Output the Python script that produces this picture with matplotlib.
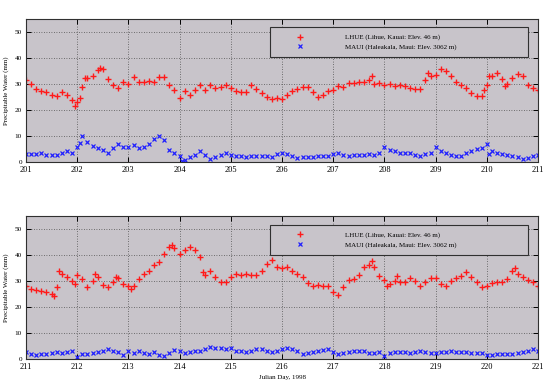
import numpy as np
import matplotlib
matplotlib.use("Agg")
import matplotlib.pyplot as plt

# Agua precipitable, días julianos 201-221 de 1998
lhue_label = "LHUE (Lihue, Kauai: Elev. 46 m)"
maui_label = "MAUI (Haleakala, Maui: Elev. 3062 m)"

top_lhue_day = [201.0, 201.1, 201.2, 201.3, 201.4, 201.5, 201.6, 201.7, 201.8, 201.9,
                201.95, 202.0, 202.05, 202.1, 202.15, 202.2, 202.3, 202.4, 202.45, 202.5,
                202.6, 202.7, 202.8, 202.9, 203.0, 203.1, 203.2, 203.3, 203.4, 203.5,
                203.6, 203.7, 203.8, 203.9, 204.0, 204.1, 204.2, 204.3, 204.4, 204.5,
                204.6, 204.7, 204.8, 204.9, 205.0, 205.1, 205.2, 205.3, 205.4, 205.5,
                205.6, 205.7, 205.8, 205.9, 206.0, 206.1, 206.2, 206.3, 206.4, 206.5,
                206.6, 206.7, 206.8, 206.9, 207.0, 207.1, 207.2, 207.3, 207.4, 207.5,
                207.6, 207.7, 207.75, 207.8, 207.9, 208.0, 208.1, 208.2, 208.3, 208.4,
                208.5, 208.6, 208.7, 208.8, 208.85, 208.9, 209.0, 209.1, 209.2, 209.3,
                209.4, 209.5, 209.6, 209.7, 209.8, 209.9, 209.95, 210.0, 210.05, 210.1,
                210.2, 210.3, 210.35, 210.4, 210.5, 210.6, 210.7, 210.8, 210.9, 211.0]
top_lhue_pw = [31.7, 30.0, 28.0, 27.2, 26.8, 25.9, 25.3, 27.0, 26.0, 24.0,
               21.7, 23.3, 24.6, 29.0, 32.3, 32.3, 33.0, 35.5, 36.4, 36.0,
               32.0, 29.7, 28.5, 31.0, 30.1, 32.7, 31.0, 31.0, 31.4, 31.0,
               32.7, 32.6, 29.7, 27.8, 24.6, 27.2, 25.9, 27.8, 29.7, 27.8,
               29.7, 28.5, 28.8, 29.7, 28.5, 27.2, 26.8, 26.8, 29.7, 28.0,
               26.5, 25.0, 24.2, 24.6, 24.4, 25.9, 27.2, 28.0, 28.8, 28.8,
               26.8, 24.9, 25.9, 27.2, 27.6, 29.1, 28.8, 30.4, 30.4, 31.0,
               31.0, 31.7, 33.0, 30.1, 30.4, 29.7, 30.1, 29.4, 29.7, 29.1,
               28.5, 28.0, 28.0, 31.7, 34.2, 33.0, 33.6, 35.8, 34.9, 33.2,
               31.0, 29.7, 28.5, 26.5, 25.5, 25.3, 27.8, 29.7, 33.2, 33.0,
               34.2, 32.0, 29.4, 30.1, 32.3, 34.0, 33.0, 29.7, 28.5, 27.8]

top_maui_day = [201.0, 201.1, 201.2, 201.3, 201.4, 201.5, 201.6, 201.7, 201.8, 201.9,
                202.0, 202.05, 202.1, 202.2, 202.3, 202.4, 202.5, 202.6, 202.7, 202.8,
                202.9, 203.0, 203.1, 203.2, 203.3, 203.4, 203.5, 203.6, 203.7, 203.8,
                203.9, 204.0, 204.05, 204.1, 204.2, 204.3, 204.4, 204.5, 204.6, 204.7,
                204.8, 204.9, 205.0, 205.1, 205.2, 205.3, 205.4, 205.5, 205.6, 205.7,
                205.8, 205.9, 206.0, 206.1, 206.2, 206.3, 206.4, 206.5, 206.6, 206.7,
                206.8, 206.9, 207.0, 207.1, 207.2, 207.3, 207.4, 207.5, 207.6, 207.7,
                207.8, 207.9, 208.0, 208.1, 208.2, 208.3, 208.4, 208.5, 208.6, 208.7,
                208.8, 208.9, 209.0, 209.1, 209.2, 209.3, 209.4, 209.5, 209.6, 209.7,
                209.8, 209.9, 210.0, 210.05, 210.1, 210.2, 210.3, 210.4, 210.5, 210.6,
                210.7, 210.8, 210.9, 211.0]
top_maui_pw = [3.1, 3.1, 3.1, 3.5, 2.8, 2.6, 2.8, 3.5, 4.1, 3.5,
               6.0, 7.3, 9.9, 7.9, 6.3, 5.4, 4.7, 3.5, 5.4, 6.9,
               6.0, 6.0, 6.7, 5.4, 6.0, 7.0, 8.8, 9.9, 8.6, 4.7,
               3.5, 2.4, 0.3, 0.9, 1.9, 2.8, 4.1, 2.8, 1.2, 1.9,
               2.8, 3.5, 2.8, 2.4, 2.2, 1.9, 2.4, 2.4, 2.2, 2.4,
               1.9, 3.2, 3.5, 3.1, 2.2, 1.5, 1.8, 1.9, 1.9, 2.2,
               2.2, 2.4, 3.2, 3.5, 2.8, 2.2, 2.8, 2.8, 2.8, 3.2,
               2.8, 3.5, 6.0, 4.7, 4.1, 3.7, 3.5, 3.5, 2.8, 2.4,
               3.2, 3.7, 6.0, 4.1, 3.7, 2.8, 2.4, 2.2, 3.5, 4.1,
               5.0, 5.4, 7.0, 3.2, 4.1, 3.5, 3.1, 2.8, 2.4, 1.9,
               1.2, 1.5, 2.4, 2.8]

bot_lhue_day = [211.0, 211.1, 211.2, 211.3, 211.4, 211.5, 211.55, 211.6, 211.65, 211.7,
                211.8, 211.9, 211.95, 212.0, 212.1, 212.2, 212.3, 212.35, 212.4, 212.5,
                212.6, 212.7, 212.75, 212.8, 212.9, 213.0, 213.05, 213.1, 213.2, 213.3,
                213.4, 213.5, 213.6, 213.7, 213.8, 213.85, 213.9, 214.0, 214.1, 214.2,
                214.3, 214.4, 214.45, 214.5, 214.6, 214.7, 214.8, 214.9, 215.0, 215.1,
                215.2, 215.3, 215.4, 215.5, 215.6, 215.7, 215.8, 215.9, 216.0, 216.1,
                216.2, 216.3, 216.4, 216.5, 216.6, 216.7, 216.8, 216.9, 217.0, 217.1,
                217.2, 217.3, 217.4, 217.5, 217.6, 217.7, 217.75, 217.8, 217.9, 218.0,
                218.05, 218.1, 218.2, 218.25, 218.3, 218.4, 218.5, 218.6, 218.7, 218.8,
                218.9, 219.0, 219.1, 219.2, 219.3, 219.4, 219.5, 219.6, 219.7, 219.8,
                219.9, 220.0, 220.1, 220.2, 220.3, 220.4, 220.5, 220.55, 220.6, 220.7,
                220.8, 220.9, 221.0]
bot_lhue_pw = [28.2, 26.9, 26.6, 26.2, 25.8, 24.9, 24.3, 27.5, 34.0, 32.7,
               31.4, 30.1, 28.8, 32.3, 30.8, 27.5, 30.1, 32.7, 31.4, 28.4,
               27.5, 29.5, 31.4, 31.0, 28.8, 28.2, 26.9, 28.2, 30.8, 32.7,
               34.0, 36.0, 37.3, 40.5, 43.1, 43.8, 42.5, 40.5, 41.8, 43.1,
               41.8, 39.2, 33.4, 32.3, 34.0, 31.4, 29.5, 29.5, 31.4, 32.7,
               32.3, 32.7, 32.3, 32.3, 34.0, 36.6, 37.9, 35.3, 35.0, 35.3,
               34.0, 32.7, 31.4, 29.2, 28.2, 28.4, 28.2, 27.9, 25.6, 24.5,
               27.5, 30.5, 30.8, 32.3, 35.3, 36.2, 37.5, 35.3, 32.1, 30.5,
               28.2, 28.8, 30.1, 31.8, 29.5, 29.5, 31.0, 30.1, 28.2, 29.7,
               31.0, 31.0, 28.8, 27.9, 30.1, 31.0, 31.8, 33.4, 31.4, 29.7,
               27.5, 28.2, 29.2, 29.7, 29.5, 30.8, 34.0, 34.9, 32.7, 31.4,
               30.5, 29.5, 28.2]

bot_maui_day = [211.0, 211.1, 211.2, 211.3, 211.4, 211.5, 211.6, 211.7, 211.8, 211.9,
                212.0, 212.1, 212.2, 212.3, 212.4, 212.5, 212.6, 212.7, 212.8, 212.9,
                213.0, 213.1, 213.2, 213.3, 213.4, 213.5, 213.6, 213.7, 213.8, 213.9,
                214.0, 214.1, 214.2, 214.3, 214.4, 214.5, 214.6, 214.7, 214.8, 214.9,
                215.0, 215.1, 215.2, 215.3, 215.4, 215.5, 215.6, 215.7, 215.8, 215.9,
                216.0, 216.1, 216.2, 216.3, 216.4, 216.5, 216.6, 216.7, 216.8, 216.9,
                217.0, 217.1, 217.2, 217.3, 217.4, 217.5, 217.6, 217.7, 217.8, 217.9,
                218.0, 218.1, 218.2, 218.3, 218.4, 218.5, 218.6, 218.7, 218.8, 218.9,
                219.0, 219.1, 219.2, 219.3, 219.4, 219.5, 219.6, 219.7, 219.8, 219.9,
                220.0, 220.1, 220.2, 220.3, 220.4, 220.5, 220.6, 220.7, 220.8, 220.9,
                221.0]
bot_maui_pw = [2.5, 1.8, 1.6, 1.8, 1.9, 2.2, 2.5, 2.2, 2.5, 2.9,
               0.9, 1.9, 1.9, 2.2, 2.5, 3.2, 3.8, 2.9, 2.5, 1.6,
               2.9, 2.2, 2.9, 2.2, 1.9, 2.5, 1.6, 1.2, 2.2, 3.5,
               3.2, 2.2, 2.5, 2.9, 3.2, 3.8, 4.5, 4.2, 4.4, 3.8,
               4.2, 2.9, 2.9, 2.6, 2.9, 3.8, 3.8, 3.2, 2.5, 2.9,
               3.8, 4.2, 3.8, 2.9, 1.9, 2.2, 2.6, 2.9, 3.5, 3.8,
               2.5, 1.9, 2.2, 2.5, 3.2, 3.2, 2.9, 2.2, 2.2, 2.5,
               1.2, 2.2, 2.6, 2.5, 2.6, 2.2, 2.5, 2.9, 2.6, 2.2,
               2.2, 2.5, 2.6, 2.9, 2.6, 2.6, 2.5, 2.2, 2.2, 2.2,
               1.6, 1.6, 1.8, 1.8, 1.9, 1.9, 2.2, 2.5, 2.9, 3.8,
               3.2]

paneles = [
    (201, top_lhue_day, top_lhue_pw, top_maui_day, top_maui_pw, False),
    (211, bot_lhue_day, bot_lhue_pw, bot_maui_day, bot_maui_pw, True),
]

plt.rcParams['font.family'] = ['Liberation Serif', 'DejaVu Serif']
fondo = '#c8c4ca'

fig = plt.figure(figsize=(5.53, 3.87), dpi=100)
fig.patch.set_facecolor('white')
posiciones = [[0.047, 0.581, 0.926, 0.3695], [0.047, 0.0724, 0.926, 0.3695]]
leyendas = [(0.4766, 0.706, 0.5034, 0.238), (0.4766, 0.699, 0.5034, 0.238)]

for (d0, ld, lv, md, mv, ultimo), pos, bb in zip(paneles, posiciones, leyendas):
    ax = fig.add_axes(pos)
    ax.set_facecolor(fondo)
    ax.plot(ld, lv, linestyle='none', marker='+', markersize=4.6, markeredgewidth=1.0,
            color='#ff1a1a', label=lhue_label)
    ax.plot(md, mv, linestyle='none', marker='x', markersize=2.8, markeredgewidth=0.9,
            color='#2020ff', label=maui_label)
    ax.set_xlim(d0, d0 + 10)
    ax.set_ylim(0, 55)
    ax.set_xticks(np.arange(d0, d0 + 11, 1))
    ax.set_yticks(np.arange(0, 51, 10))
    ax.grid(True, linestyle=(0, (1, 2)), color='#505050', linewidth=0.6)
    ax.tick_params(axis='x', direction='in', length=3.5, width=0.7, top=True,
                   labelsize=6, pad=3)
    ax.tick_params(axis='y', direction='in', length=3.5, width=0.7, right=True,
                   labelsize=5.2, pad=3)
    for s in ax.spines.values():
        s.set_color('#303030')
        s.set_linewidth(0.8)
    ax.set_ylabel('Precipitable Water (mm)', fontsize=5, labelpad=4)
    if ultimo:
        ax.set_xlabel('Julian Day, 1998', fontsize=5, labelpad=3)
    leg = ax.legend(loc='upper left', bbox_to_anchor=bb, mode='expand',
                    borderaxespad=0, fontsize=5, handlelength=6.5, handletextpad=3.3,
                    borderpad=1.0, labelspacing=0.5, fancybox=False, framealpha=1,
                    facecolor=fondo, edgecolor='#303030', numpoints=1)
    leg.get_frame().set_linewidth(0.8)

fig.savefig('out.png', dpi=100, facecolor='white')
